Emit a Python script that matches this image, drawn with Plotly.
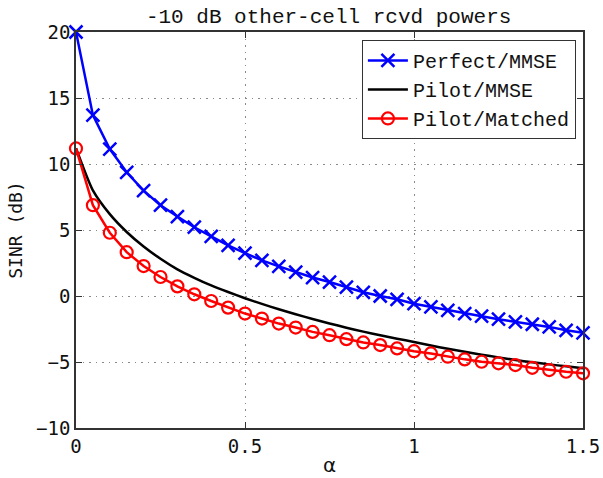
import plotly.graph_objects as go

alpha = [round(0.05 * i, 2) for i in range(31)]

perfect_mmse = [20.0, 13.7, 11.13, 9.37, 7.98, 6.88, 6.02, 5.21, 4.51, 3.83,
                3.25, 2.7, 2.24, 1.81, 1.4, 1.06, 0.68, 0.28, 0.0, -0.25,
                -0.58, -0.83, -1.08, -1.33, -1.53, -1.76, -1.96, -2.14, -2.34, -2.6,
                -2.79]

pilot_mmse = [11.2, 8.0, 6.2, 4.85, 3.75, 2.82, 2.02, 1.38, 0.8, 0.3,
              -0.17, -0.6, -1.0, -1.38, -1.74, -2.08, -2.4, -2.7, -2.98, -3.24,
              -3.48, -3.75, -4.0, -4.23, -4.45, -4.65, -4.85, -5.02, -5.18, -5.33,
              -5.48]

pilot_matched = [11.18, 6.88, 4.79, 3.32, 2.27, 1.44, 0.73, 0.13, -0.38, -0.88,
                 -1.33, -1.71, -2.09, -2.39, -2.72, -2.97, -3.27, -3.52, -3.72, -3.97,
                 -4.18, -4.35, -4.6, -4.8, -4.98, -5.1, -5.23, -5.44, -5.61, -5.74,
                 -5.86]

x_ticks = [0, 0.5, 1, 1.5]
x_ticklabels = ["0", "0.5", "1", "1.5"]
y_ticks = [-10, -5, 0, 5, 10, 15, 20]

fig = go.Figure()
fig.add_trace(go.Scatter(
    x=alpha, y=perfect_mmse, name="Perfect/MMSE", mode="lines+markers",
    line=dict(color="#0000ff", width=2.5), cliponaxis=False,
    marker=dict(symbol="x-thin", size=13, line=dict(color="#0000ff", width=2.5)),
))
fig.add_trace(go.Scatter(
    x=alpha, y=pilot_mmse, name="Pilot/MMSE", mode="lines",
    line=dict(color="#000000", width=2.5, shape="spline", smoothing=0.6),
))
fig.add_trace(go.Scatter(
    x=alpha, y=pilot_matched, name="Pilot/Matched", mode="lines+markers",
    line=dict(color="#ff0000", width=2.5), cliponaxis=False,
    marker=dict(symbol="circle-open", size=12, color="#ff0000",
                line=dict(color="#ff0000", width=2.2)),
))

axis_common = dict(
    showline=True, mirror="ticks", linecolor="#333333", linewidth=1.5,
    ticks="inside", ticklen=6, tickcolor="#333333", tickwidth=1,
    showgrid=True, gridcolor="#8a8a8a", griddash="1.5px,5px", gridwidth=1.2,
    zeroline=False, automargin=False,
    tickfont=dict(family="DejaVu Sans Mono", size=19, color="#111111"),
)

fig.update_xaxes(range=[0, 1.5], tickvals=x_ticks, ticktext=x_ticklabels,
                 title=dict(text="α", font=dict(family="DejaVu Sans", size=20, color="#111111"),
                            standoff=2),
                 **axis_common)
fig.update_yaxes(range=[-10, 20], tickvals=y_ticks,
                 title=dict(text="SINR (dB)", font=dict(family="DejaVu Sans Mono", size=18, color="#111111"),
                            standoff=9),
                 **axis_common)

fig.update_layout(
    width=603, height=478,
    margin=dict(l=76, r=20, t=32, b=50, autoexpand=False),
    paper_bgcolor="white", plot_bgcolor="white",
    title=dict(text="-10 dB other-cell rcvd powers", x=0.545, xanchor="center",
               y=0.982, yanchor="top",
               font=dict(family="Liberation Mono", size=21, color="#111111")),
    legend=dict(x=0.986, y=0.98, xanchor="right", yanchor="top",
                bgcolor="white", bordercolor="#333333", borderwidth=1,
                font=dict(family="Liberation Mono", size=20, color="#111111"),
                tracegroupgap=0, itemwidth=40),
    showlegend=True,
)

fig.write_html("out.html", config={"displayModeBar": False},
               post_script="document.body.style.margin='0';")
